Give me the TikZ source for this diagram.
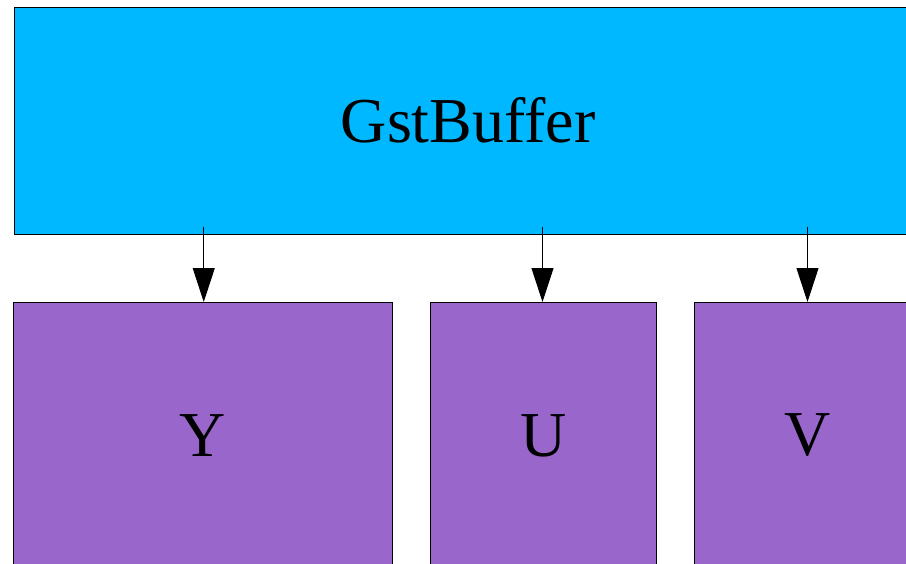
\documentclass[tikz,border=0pt]{standalone}
\usepackage{fontspec}
\setmainfont{Liberation Serif}
\usetikzlibrary{arrows.meta,calc}
\definecolor{bufblue}{RGB}{0,184,255}
\definecolor{planepurple}{RGB}{153,102,204}
\tikzset{
  bufferbox/.style={draw=black, fill=bufblue, line width=1pt, inner sep=0pt,
    anchor=north west, font=\fontsize{64}{64}\selectfont},
  planebox/.style={draw=black, fill=planepurple, line width=1pt, inner sep=0pt,
    anchor=north west, minimum height=266pt, font=\fontsize{64}{64}\selectfont},
  ptr/.style={draw=black, line width=1pt, -{Triangle[length=34pt,width=22pt]}}
}
\begin{document}
\begin{tikzpicture}[x=1pt,y=-1pt]
  \useasboundingbox (0,0) rectangle (906,563);
  \clip (0,0) rectangle (906,563);
  % the buffer and its three planes
  \node[bufferbox, minimum width=908.5pt, minimum height=226.5pt] (buf) at (13.5,7) {GstBuffer};
  \node[planebox, minimum width=378.5pt] (py) at (13,302) {Y};
  \node[planebox, minimum width=226pt] (pu) at (430,302) {U};
  \node[planebox, minimum width=226pt] (pv) at (694,302) {V};
  % pointers from the buffer to each plane
  \draw[ptr] ($(buf.south -| py.north)+(1,-8)$) -- ([xshift=1pt]py.north);
  \draw[ptr] ($(buf.south -| pu.north)+(-1,-8)$) -- ([xshift=-1pt]pu.north);
  \draw[ptr] ($(buf.south -| pv.north)+(0,-8)$) -- (pv.north);
\end{tikzpicture}
\end{document}
